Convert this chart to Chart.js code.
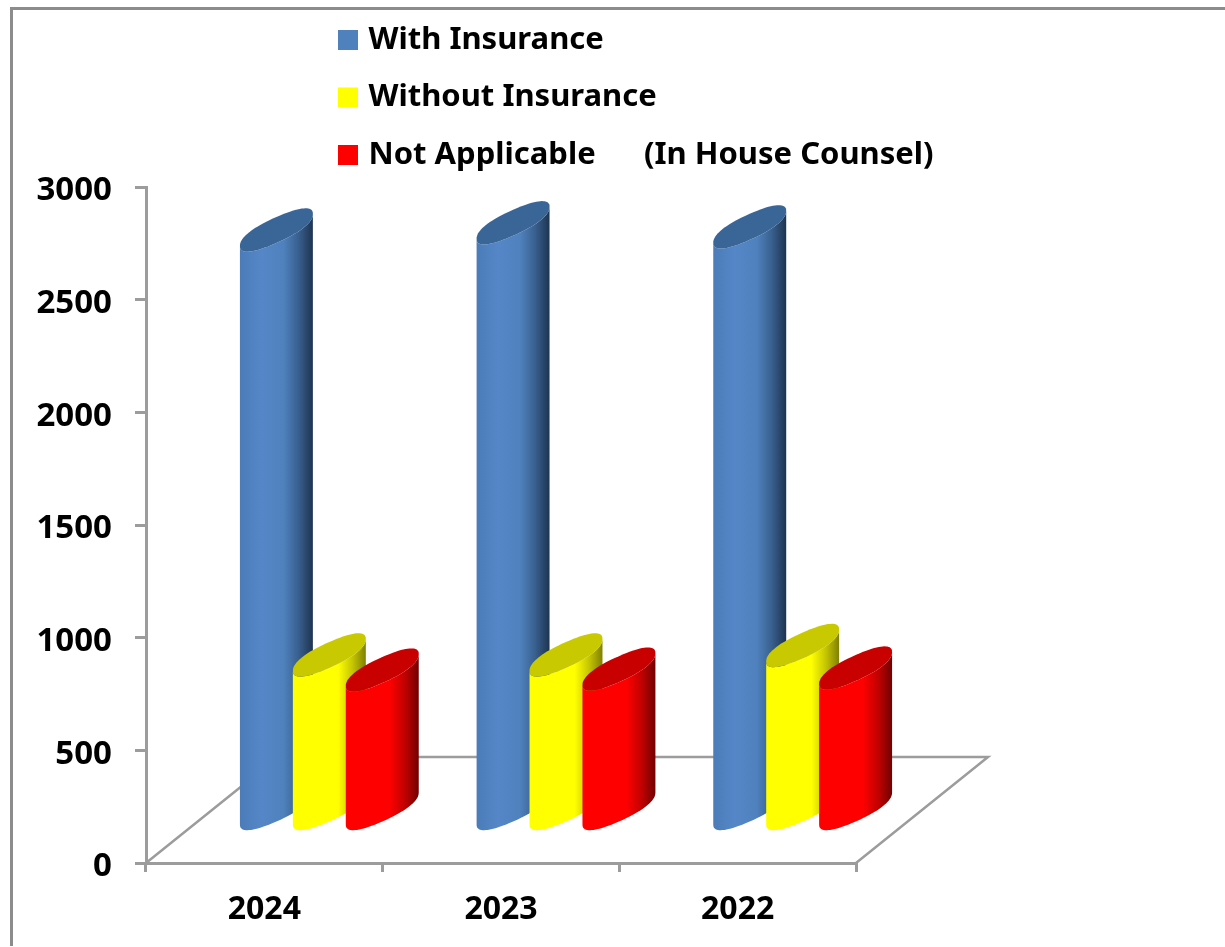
<!DOCTYPE html>
<html><head><meta charset="utf-8">
<style>
html,body{margin:0;padding:0;background:#fff;overflow:hidden}
#wrap{position:relative;width:1225px;height:947px}
#frame{position:absolute;left:10px;top:7px;right:0;bottom:1px;border-left:3px solid #8c8c8c;border-top:3px solid #8c8c8c;pointer-events:none}
canvas{position:absolute;left:0;top:0;filter:blur(0.4px)}
</style>
<script src="https://cdn.jsdelivr.net/npm/chart.js@4"></script>
</head><body>
<div id="wrap"><div id="frame"></div><canvas id="c" width="1225" height="947"></canvas></div>
<script>
const categories = ['2024', '2023', '2022'];
const withInsurance = [2574, 2606, 2588];
const withoutInsurance = [688, 688, 730];
const notApplicable = [621, 625, 630];
const xTickFont = {family: '"Noto Sans"', weight: 'bold', size: 32};
const yTickFont = {family: '"Noto Sans"', weight: 'bold', size: 33};
const legendFont = {family: '"Noto Sans"', weight: 'bold', size: 31};
const axisGray = '#9c9c9c';
const styles = [
  {top: '#3a6597', stops: [[0, '#4b7cb8'], [0.3, '#5587c8'], [0.6, '#4f81bd'], [0.8, '#39608f'], [1, '#1e3450']]},
  {top: '#c9c900', stops: [[0, '#ffff00'], [0.62, '#ffff00'], [0.82, '#c4c400'], [1, '#808000']]},
  {top: '#c80000', stops: [[0, '#ff0000'], [0.6, '#ff0000'], [0.82, '#bf0000'], [1, '#700000']]}
];
const DEPTH_X = 132, DEPTH_Y = 106;

function cylinder(ctx, bar, st) {
  const cx = bar.x + DEPTH_X / 2 - 1;
  const topY = bar.y - DEPTH_Y / 2, botY = bar.base - DEPTH_Y / 2;
  const ax = bar.width * 0.689, ay = 16, by = 13, pw = 0.85;
  const sp = v => Math.sign(v) * Math.pow(Math.abs(v), pw);
  const pt = (cy, t) => {
    const u = sp(Math.cos(t)), w = sp(Math.sin(t));
    return [cx + ax * u, cy - ay * u + by * w];
  };
  const g = ctx.createLinearGradient(cx - ax, 0, cx + ax, 0);
  st.stops.forEach(s => g.addColorStop(s[0], s[1]));
  // body: left edge down, lower half of the base, right edge up, lower half of the top
  ctx.beginPath();
  let p = pt(topY, Math.PI); ctx.moveTo(p[0], p[1]);
  for (let i = 0; i <= 40; i++) { p = pt(botY, Math.PI - Math.PI * i / 40); ctx.lineTo(p[0], p[1]); }
  for (let i = 0; i <= 40; i++) { p = pt(topY, Math.PI * i / 40); ctx.lineTo(p[0], p[1]); }
  ctx.closePath();
  ctx.fillStyle = g; ctx.fill();
  // top cap
  ctx.beginPath();
  for (let i = 0; i <= 80; i++) { p = pt(topY, 2 * Math.PI * i / 80); i ? ctx.lineTo(p[0], p[1]) : ctx.moveTo(p[0], p[1]); }
  ctx.closePath();
  ctx.fillStyle = st.top; ctx.fill();
}

const cylinders = {
  id: 'cylinders',
  afterLayout(chart) {
    const l = chart.legend;
    l.left = 316.5; l.top = -2; l.right = 1200; l.bottom = 400;
    l.width = l.right - l.left; l.height = l.bottom - l.top;
  },
  beforeDatasetsDraw(chart) {
    const ctx = chart.ctx, a = chart.chartArea;
    ctx.save();
    ctx.strokeStyle = axisGray; ctx.lineWidth = 2.5;
    ctx.beginPath();
    ctx.moveTo(a.left, a.bottom);
    ctx.lineTo(a.left + DEPTH_X, a.bottom - DEPTH_Y);
    ctx.lineTo(a.right + DEPTH_X, a.bottom - DEPTH_Y);
    ctx.lineTo(a.right, a.bottom);
    ctx.stroke();
    chart.data.datasets.forEach((ds, i) => {
      chart.getDatasetMeta(i).data.forEach(bar => cylinder(ctx, bar, styles[i]));
    });
    ctx.restore();
    return false;
  }
};

new Chart(document.getElementById('c'), {
  type: 'bar',
  data: {
    labels: categories,
    datasets: [
      {label: 'With Insurance', data: withInsurance, backgroundColor: '#4f81bd'},
      {label: 'Without Insurance', data: withoutInsurance, backgroundColor: '#ffff00'},
      {label: 'Not Applicable      (In House Counsel)', data: notApplicable, backgroundColor: '#ff0000'}
    ]
  },
  options: {
    responsive: false, animation: false,
    layout: {padding: {top: 187, right: 369, bottom: 0, left: 0}},
    datasets: {bar: {categoryPercentage: 0.671, barPercentage: 1}},
    plugins: {
      title: {display: false}, tooltip: {enabled: false},
      legend: {
        position: 'chartArea', align: 'start',
        labels: {font: legendFont, color: '#000', usePointStyle: true, pointStyle: 'rect', boxWidth: 10, boxHeight: 20, padding: 26.5}
      }
    },
    scales: {
      x: {
        afterFit(s) { s.height = 84; },
        border: {color: axisGray, width: 3},
        grid: {drawOnChartArea: false, color: axisGray, lineWidth: 3, tickLength: 9},
        ticks: {font: xTickFont, color: '#000', padding: 19, maxRotation: 0}
      },
      y: {
        min: 0, max: 3000,
        afterFit(s) { s.width = 146; },
        border: {color: axisGray, width: 3},
        grid: {drawOnChartArea: false, color: axisGray, lineWidth: 3, tickLength: 11},
        ticks: {font: yTickFont, color: '#000', stepSize: 500, padding: 23, labelOffset: 4, callback: v => String(v)}
      }
    }
  },
  plugins: [cylinders]
});
</script>
</body></html>
